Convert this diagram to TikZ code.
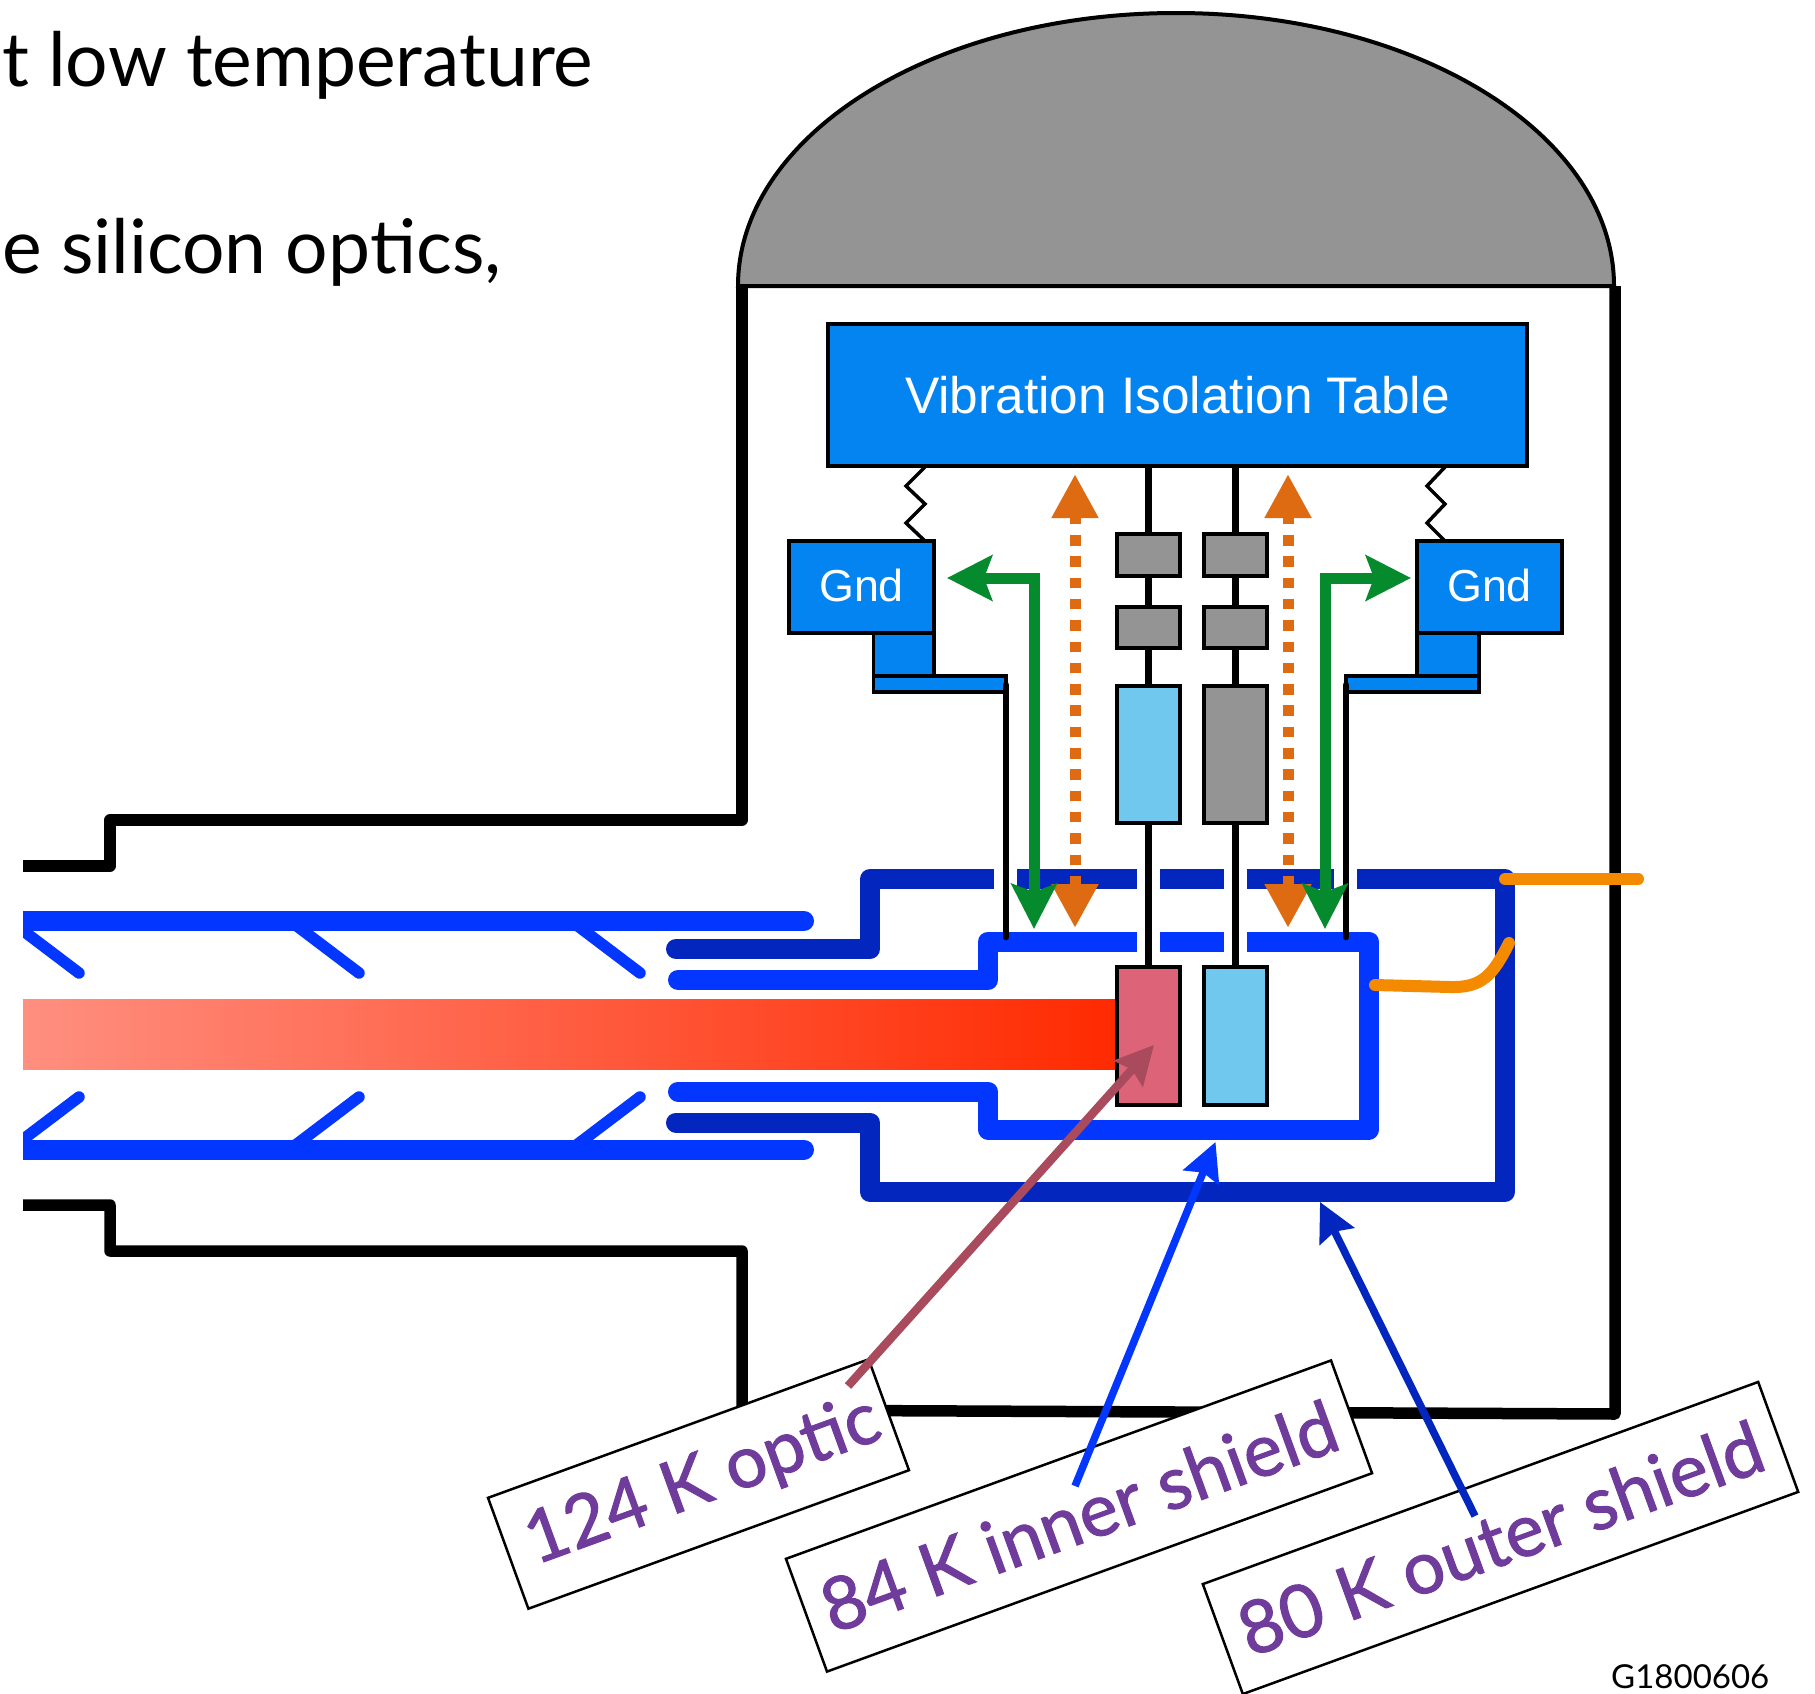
\documentclass[tikz,border=0pt]{standalone}
\usepackage{fontspec}
\setmainfont{Liberation Sans}
\newfontfamily\gill{Lato}
\newfontfamily\gillm[FakeBold=1.4]{Lato}
\usetikzlibrary{arrows.meta,calc}
\definecolor{tablecol}{HTML}{0484F0}
\definecolor{graycol}{HTML}{949494}
\definecolor{lightblue}{HTML}{70C8EE}
\definecolor{mirrorcol}{HTML}{DC6378}
\definecolor{outerblue}{HTML}{0226BE}
\definecolor{innerblue}{HTML}{0336FE}
\definecolor{tubeblue}{HTML}{0336FE}
\definecolor{orangedash}{HTML}{DE6A12}
\definecolor{greenarrow}{HTML}{058B2E}
\definecolor{leadorange}{HTML}{F48A00}
\definecolor{redarrow}{HTML}{A94B5C}
\definecolor{labeltext}{HTML}{703C9C}
\definecolor{beamL}{HTML}{FF8F80}
\definecolor{beamR}{HTML}{FF2A00}
\tikzset{
  block/.style={draw=black,line width=3.5pt,inner sep=0pt,outer sep=0pt,text=white},
  stem/.style={draw=black,line width=7pt},
  wall/.style={draw=black,line width=11.5pt,line join=round},
  shieldout/.style={draw=outerblue,line width=20pt,line join=round,line cap=round},
  shieldin/.style={draw=innerblue,line width=20pt,line join=round,line cap=round},
  tube/.style={draw=tubeblue,line width=20pt,line cap=round},
  baffle/.style={draw=tubeblue,line width=11.5pt,line cap=round},
  gap/.style={fill=white,draw=none},
  heatflow/.style={draw=orangedash,line width=11pt,dash pattern=on 10.5pt off 10.8pt,dash phase=1.5pt,
    {Triangle[length=44pt,width=44pt,color=orangedash]}-{Triangle[length=44pt,width=44pt,color=orangedash]}},
  greenflow/.style={draw=greenarrow,line width=11pt,line join=miter,
    {Stealth[length=45pt,width=45pt,inset=8pt,color=greenarrow]}-{Stealth[length=45pt,width=45pt,inset=8pt,color=greenarrow]}},
  lead/.style={draw=leadorange,line width=12pt,line cap=round,line join=round},
  tag/.style={draw=black,line width=2.5pt,fill=white,rotate=20,inner sep=0pt,outer sep=0pt,text=labeltext,
    font=\gillm\fontsize{73.5}{76}\selectfont},
  pointer/.style={line width=8.5pt,-{Stealth[length=38pt,width=38pt,inset=5pt]}},
}
\begin{document}
\begin{tikzpicture}[x=1pt,y=-1pt]
\useasboundingbox (0,0) rectangle (1815,1694);
\fill[white] (0,0) rectangle (1815,1694);

% heading text
\node[anchor=base west,inner sep=0pt,font=\gill\fontsize{75}{80}\selectfont] (head1) at (2,87) {t low temperature};
\node[anchor=base west,inner sep=0pt,font=\gill\fontsize{75}{80}\selectfont] (head2) at (2,273) {e silicon optics,};

% dome and vacuum walls
\draw[fill=graycol,line width=4pt] (738,286) .. controls (738,135) and (934,13) .. (1176,13)
   .. controls (1418,13) and (1614,135) .. (1614,286) -- cycle;
\draw[wall] (742,286) -- (742,820) -- (110,820) -- (110,866) -- (23,866);
\draw[wall] (23,1205) -- (110,1205) -- (110,1251) -- (742,1251) -- (742,1410) -- (1615,1414) -- (1615,286);

% beam
\shade[left color=beamL,right color=beamR] (23,999) rectangle (1118,1069);

% baffled tube
\begin{scope}
\clip (23,0) rectangle (1815,1694);
\foreach \bx in {23,303,584}{
  \draw[baffle] (\bx-10,923) -- (\bx+56,973);
  \draw[baffle] (\bx-10,1147) -- (\bx+56,1097);
}
\end{scope}
\draw[tube,line cap=butt] (23,921) -- (400,921);
\draw[tube] (400,921) -- (804,921);
\draw[tube,line cap=butt] (23,1149.5) -- (400,1149.5);
\draw[tube] (400,1149.5) -- (804,1149.5);

% shields
\draw[shieldout] (676,949) -- (870,949) -- (870,879) -- (1505,879) -- (1505,1192) -- (870,1192) -- (870,1122.5) -- (676,1122.5);
\draw[shieldin] (678,980) -- (988,980) -- (988,941.5) -- (1369,941.5) -- (1369,1129.5) -- (988,1129.5) -- (988,1091.5) -- (678,1091.5);
\fill[gap] (994,865) rectangle (1017,893);
\fill[gap] (1136.5,865) rectangle (1160,893);
\fill[gap] (1224,865) rectangle (1247,893);
\fill[gap] (1334,865) rectangle (1357,893);
\fill[gap] (1136.5,928) rectangle (1160,955);
\fill[gap] (1224,928) rectangle (1247,955);

% table and grounds
\node[block,fill=tablecol,minimum width=699pt,minimum height=142pt,font=\fontsize{51.4}{60}\selectfont] (table) at (1177.5,395) {Vibration Isolation Table};
\node[block,fill=tablecol,minimum width=145pt,minimum height=92pt,font=\fontsize{44.8}{50}\selectfont] (gndL) at (861.5,587) {\raisebox{4pt}{Gnd}};
\node[block,fill=tablecol,minimum width=145pt,minimum height=92pt,font=\fontsize{44.8}{50}\selectfont] (gndR) at (1489.5,587) {\raisebox{4pt}{Gnd}};
\node[block,fill=tablecol,minimum width=60.5pt,minimum height=43pt] (footL) at (903.75,654.5) {};
\node[block,fill=tablecol,minimum width=132.5pt,minimum height=16pt] (shelfL) at (939.75,684) {};
\node[block,fill=tablecol,minimum width=62pt,minimum height=43pt] (footR) at (1448,654.5) {};
\node[block,fill=tablecol,minimum width=133pt,minimum height=16pt] (shelfR) at (1412.5,684) {};

% suspension chains
\node[block,fill=graycol,minimum width=63pt,minimum height=42pt] (g1L) at (1148.5,555) {};
\node[block,fill=graycol,minimum width=63pt,minimum height=41pt] (g2L) at (1148.5,627.5) {};
\node[block,fill=lightblue,minimum width=63pt,minimum height=137pt] (bL) at (1148.5,754.5) {};
\node[block,fill=mirrorcol,minimum width=63pt,minimum height=138pt] (mL) at (1148.5,1036) {};
\node[block,fill=graycol,minimum width=63pt,minimum height=42pt] (g1R) at (1235.5,555) {};
\node[block,fill=graycol,minimum width=63pt,minimum height=41pt] (g2R) at (1235.5,627.5) {};
\node[block,fill=graycol,minimum width=63pt,minimum height=137pt] (bR) at (1235.5,754.5) {};
\node[block,fill=lightblue,minimum width=63pt,minimum height=138pt] (mR) at (1235.5,1036) {};
\foreach \col in {L,R}{
  \draw[stem] (g1\col.north |- table.south) -- (g1\col.north);
  \draw[stem] (g1\col.south) -- (g2\col.north);
  \draw[stem] (g2\col.south) -- (b\col.north);
  \draw[stem] (b\col.south) -- (m\col.north);
}

% springs
\coordinate (sprL) at (925,467);
\coordinate (sprR) at (1445,467);
\draw[line width=3.5pt] (sprL) -- ++(-19,19) -- ++(19,18) -- ++(-19,19) -- ++(19,18);
\draw[line width=3.5pt] (sprR) -- ++(-18,19) -- ++(18,18) -- ++(-18,19) -- ++(18,18);

% rods from shelves to inner shield
\coordinate (rodLtop) at (1006,685);
\coordinate (rodLbot) at (1006,937);
\coordinate (rodRtop) at (1346,685);
\coordinate (rodRbot) at (1346,937);
\draw[draw=black,line width=6.5pt,line cap=round] (rodLtop) -- (rodLbot);
\draw[draw=black,line width=6.5pt,line cap=round] (rodRtop) -- (rodRbot);

% heat-flow arrows
\coordinate (hLt) at (1075,474);
\coordinate (hLb) at (1075,928);
\coordinate (hRt) at (1288,474);
\coordinate (hRb) at (1288,928);
\draw[heatflow] (hLt) -- (hLb);
\draw[heatflow] (hRt) -- (hRb);

% green arrows
\coordinate (gLa) at (947,578);
\coordinate (gLc) at (1034,578);
\coordinate (gLb) at (1034,929);
\coordinate (gRa) at (1411,578);
\coordinate (gRc) at (1325,578);
\coordinate (gRb) at (1325,929);
\draw[greenflow] (gLa) -- (gLc) -- (gLb);
\draw[greenflow] (gRa) -- (gRc) -- (gRb);

% orange leads
\coordinate (lead1a) at (1505,879);
\coordinate (lead1b) at (1638,879);
\coordinate (lead2a) at (1375,985);
\coordinate (lead2b) at (1509,943);
\draw[lead] (lead1a) -- (lead1b);
\draw[lead] (lead2a) -- (1450,987) .. controls (1482,988) and (1493,975) .. (lead2b);

% labels
\node[tag,minimum width=405pt,minimum height=118pt,font=\gillm\fontsize{72.5}{76}\selectfont] (lab1) at (698.5,1484) {\hspace*{10pt}124 K optic};
\node[tag,minimum width=580pt,minimum height=120pt] (lab2) at (1079,1516) {84 K inner shield};
\node[tag,minimum width=591pt,minimum height=117pt] (lab3) at (1500.5,1538) {80 K outer shield};

% pointers
\coordinate (p1s) at (848,1386);
\coordinate (p1e) at (1154,1045);
\coordinate (p2s) at (1075,1486);
\coordinate (p2e) at (1215.5,1142);
\coordinate (p3s) at (1475,1516);
\coordinate (p3e) at (1320,1202);
\draw[pointer,draw=redarrow,color=redarrow] (p1s) -- (p1e);
\draw[pointer,draw=innerblue,color=innerblue,line width=7.5pt] (p2s) -- (p2e);
\draw[pointer,draw=outerblue,color=outerblue,line width=7.5pt] (p3s) -- (p3e);

\node[anchor=base west,inner sep=0pt,font=\gill\fontsize{33}{40}\selectfont] (gnum) at (1611,1688) {G1800606};
\end{tikzpicture}
\end{document}
